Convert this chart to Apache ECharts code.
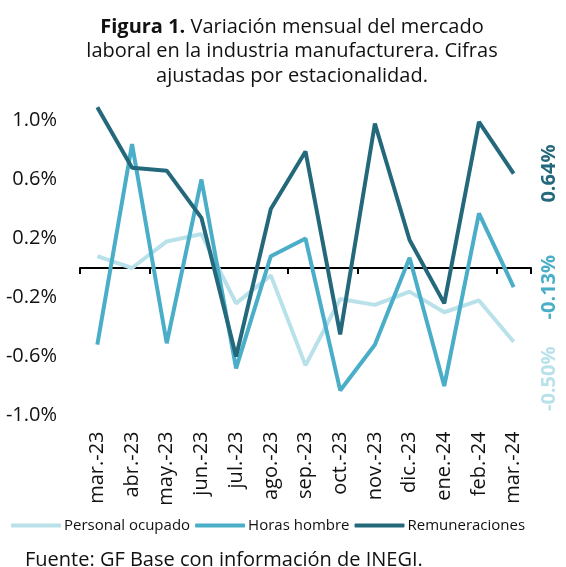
<!DOCTYPE html>
<html lang="es">
<head>
    <meta charset="UTF-8">
    <script src="https://cdn.jsdelivr.net/npm/echarts@6/dist/echarts.min.js"></script>
    <style>
        html,body{margin:0;padding:0;background:#fff}
        #chart{width:566px;height:567px}
    </style>
    <title>Figura 1</title>
</head>
<body>
<div id="chart"></div>
<script>
    var meses = ['mar.-23','abr.-23','may.-23','jun.-23','jul.-23','ago.-23','sep.-23','oct.-23','nov.-23','dic.-23','ene.-24','feb.-24','mar.-24'];
    var personal = [0.08, 0.00, 0.18, 0.23, -0.24, -0.05, -0.66, -0.21, -0.25, -0.16, -0.30, -0.22, -0.50];
    var horas = [-0.52, 0.84, -0.51, 0.60, -0.68, 0.08, 0.20, -0.83, -0.52, 0.07, -0.80, 0.37, -0.13];
    var remun = [1.09, 0.68, 0.66, 0.34, -0.60, 0.40, 0.79, -0.45, 0.98, 0.19, -0.24, 0.99, 0.64];
    var nombres = ['Personal ocupado', 'Horas hombre', 'Remuneraciones'];
    var colores = ['#b9e1ea', '#4aaec8', '#24697b'];

    var fuente = '"Open Sans", "Noto Sans", sans-serif';
    var ec = echarts.init(document.getElementById('chart'));

    // desp: [dx, dy] en pantalla; la etiqueta va girada 90° y el offset se aplica en su marco
    function serie(i, datos, desp) {
        return {
            name: nombres[i],
            type: 'line',
            data: datos,
            symbol: 'none',
            z: 3 + i,
            lineStyle: {width: 4, color: colores[i]},
            itemStyle: {color: colores[i]},
            endLabel: {
                show: true,
                formatter: function (p) { return p.value.toFixed(2) + '%'; },
                rotate: 90,
                distance: 0,
                align: 'center',
                verticalAlign: 'middle',
                offset: [-desp[1], desp[0]],
                color: colores[i],
                fontFamily: fuente,
                fontWeight: 'bold',
                fontSize: 20
            }
        };
    }

    var option = {
        animation: false,
        textStyle: {fontFamily: fuente},
        title: [{
            text: '{b|Figura 1.} Variación mensual del mercado\nlaboral en la industria manufacturera. Cifras\najustadas por estacionalidad.',
            left: 287,
            top: 10,
            textAlign: 'center',
            textStyle: {
                fontSize: 20,
                fontWeight: 'normal',
                color: '#111',
                lineHeight: 24.5,
                fontFamily: fuente,
                rich: {b: {fontWeight: 'bold', fontSize: 20, color: '#111', fontFamily: fuente, lineHeight: 24.5}}
            }
        }, {
            text: 'Fuente: GF Base con información de INEGI.',
            left: 20,
            top: 545,
            textStyle: {fontSize: 20, fontWeight: 'normal', color: '#111', fontFamily: fuente}
        }],
        legend: {
            data: nombres,
            left: 6,
            top: 513,
            icon: 'roundRect',
            itemWidth: 50,
            itemHeight: 4,
            itemGap: 5,
            textStyle: {fontSize: 15, color: '#111', fontFamily: fuente, padding: [0, 0, 0, -2]}
        },
        grid: {left: 80, right: 35, top: 91, bottom: 151.5},
        xAxis: [{
            type: 'category',
            data: meses,
            position: 'bottom',
            axisLine: {show: false, onZero: false},
            axisTick: {show: false},
            axisLabel: {rotate: 90, margin: 16, fontSize: 20, color: '#111', fontFamily: fuente}
        }, {
            type: 'category',
            data: meses,
            position: 'bottom',
            axisLine: {show: true, onZero: true, lineStyle: {color: '#000', width: 2}},
            axisTick: {show: true, length: 6, lineStyle: {color: '#000', width: 2}},
            axisLabel: {show: false}
        }],
        yAxis: {
            type: 'value',
            min: -1.0,
            max: 1.2,
            interval: 0.2,
            axisLine: {show: false},
            axisTick: {show: false},
            splitLine: {show: false},
            axisLabel: {
                margin: 23,
                fontSize: 20,
                color: '#111',
                fontFamily: fuente,
                formatter: function (v) {
                    var k = Math.round(v * 10);
                    if (Math.abs(k % 4) !== 2) return '';
                    return (k / 10).toFixed(1) + '%';
                }
            }
        },
        series: [
            serie(0, personal, [36, 37]),
            serie(1, horas, [36, 0]),
            serie(2, remun, [36, 0])
        ]
    };
    ec.setOption(option);
</script>
</body>
</html>
